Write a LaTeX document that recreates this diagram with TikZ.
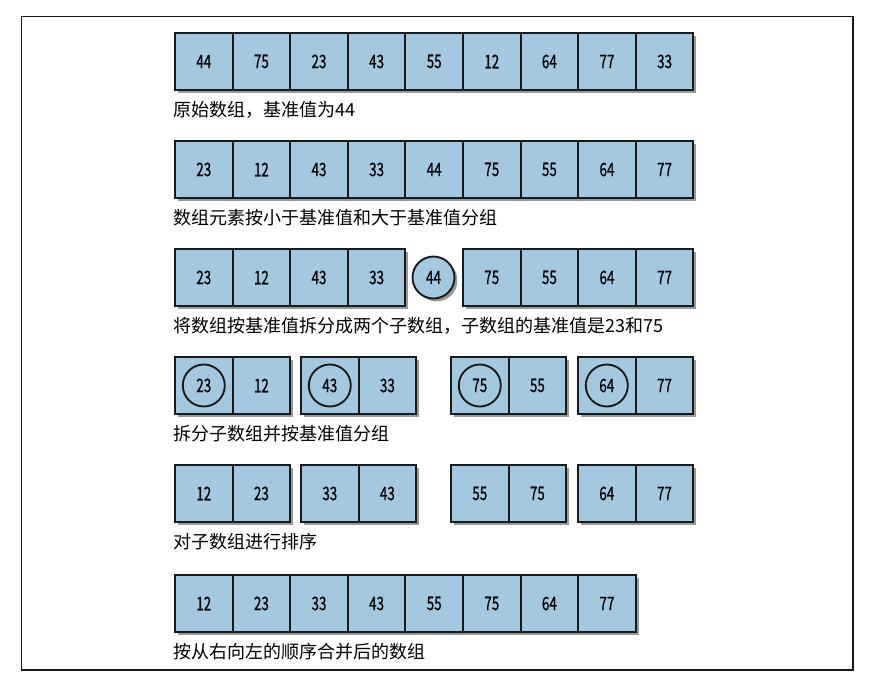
\documentclass[tikz,border=0pt]{standalone}
\usepackage{fontspec}
\setmainfont{Noto Sans CJK SC}
\newfontfamily\numfont[FakeStretch=0.72,FakeBold=0.6]{Noto Sans CJK SC}
\usetikzlibrary{positioning,shadows}

\begin{document}
\begin{tikzpicture}[x=0.75pt,y=-0.75pt]
  % some colors
  \definecolor{cellblue}{RGB}{163,200,224}
  \colorlet{edge}{black!90}
  % some styles
  \tikzset{
    cell/.style={
      draw=edge,
      fill=cellblue,
      line width=1.6pt,
      minimum width=43.2pt,
      minimum height=43pt,
      inner sep=0pt,
      outer sep=0pt,
      font=\numfont\fontsize{14}{16}\selectfont,
      drop shadow={shadow xshift=2.2pt,shadow yshift=-2.2pt,fill=black,opacity=.4},
    },
    ring/.style={
      circle,
      draw=edge,
      line width=1.4pt,
      minimum size=31.5pt,
      inner sep=0pt,
      outer sep=0pt,
      font=\numfont\fontsize{14}{16}\selectfont,
    },
    caption/.style={inner sep=0pt,font=\fontsize{13.5}{16}\selectfont},
  }
  \useasboundingbox (0,0) rectangle (876,687);
  % outer frame
  \draw[line width=.8pt,edge] (21.5,16.5) rectangle (853,670);
  % row 1: the original array
  \foreach \v [count=\i] in {44,75,23,43,55,12,64,77,33}
    \node[cell] (r1-\i) at ({175+(\i-.5)*57.6},61.5) {\v};
  \node[caption,below right=8.5pt and -1.5pt of r1-1.south west] (c1) {原始数组，基准值为44};
  % row 2: split around the pivot
  \foreach \v [count=\i] in {23,12,43,33,44,75,55,64,77}
    \node[cell] (r2-\i) at ({175+(\i-.5)*57.6},169.5) {\v};
  \node[caption,below right=8.5pt and -1.5pt of r2-1.south west] (c2) {数组元素按小于基准值和大于基准值分组};
  % row 3: two sub arrays and the pivot
  \foreach \v [count=\i] in {23,12,43,33}
    \node[cell] (r3-\i) at ({175+(\i-.5)*57.6},277.5) {\v};
  \node[ring,fill=cellblue,drop shadow={shadow xshift=2.2pt,shadow yshift=-2.2pt,fill=black,opacity=.4}]
    (r3-p) at (433.5,277.5) {44};
  \foreach \v [count=\i] in {75,55,64,77}
    \node[cell] (r3-\the\numexpr\i+5\relax) at ({463+(\i-.5)*57.6},277.5) {\v};
  \node[caption,below right=8.5pt and -1.5pt of r3-1.south west] (c3) {将数组按基准值拆分成两个子数组，子数组的基准值是23和75};
  % row 4: sub arrays with their pivots
  \foreach \gx/\a/\b [count=\g] in {175/23/12,301/43/33,451/75/55,578/64/77} {
    \node[cell] (r4-\g-1) at ({\gx+28.8},385.5) {};
    \node[cell,right=0pt of r4-\g-1] (r4-\g-2) {\b};
    \node[ring] (p4-\g) at (r4-\g-1) {\a};
  }
  \node[caption,below right=8.5pt and -1.5pt of r4-1-1.south west] (c4) {拆分子数组并按基准值分组};
  % row 5: sorted sub arrays
  \foreach \gx/\a/\b [count=\g] in {175/12/23,301/33/43,451/55/75,578/64/77} {
    \node[cell] (r5-\g-1) at ({\gx+28.8},493.5) {\a};
    \node[cell,right=0pt of r5-\g-1] (r5-\g-2) {\b};
  }
  \node[caption,below right=8.5pt and -1.5pt of r5-1-1.south west] (c5) {对子数组进行排序};
  % row 6: merged result
  \foreach \v [count=\i] in {12,23,33,43,55,75,64,77}
    \node[cell] (r6-\i) at ({175+(\i-.5)*57.6},603.5) {\v};
  \node[caption,below right=8.5pt and -1.5pt of r6-1.south west] (c6) {按从右向左的顺序合并后的数组};
\end{tikzpicture}
\end{document}
